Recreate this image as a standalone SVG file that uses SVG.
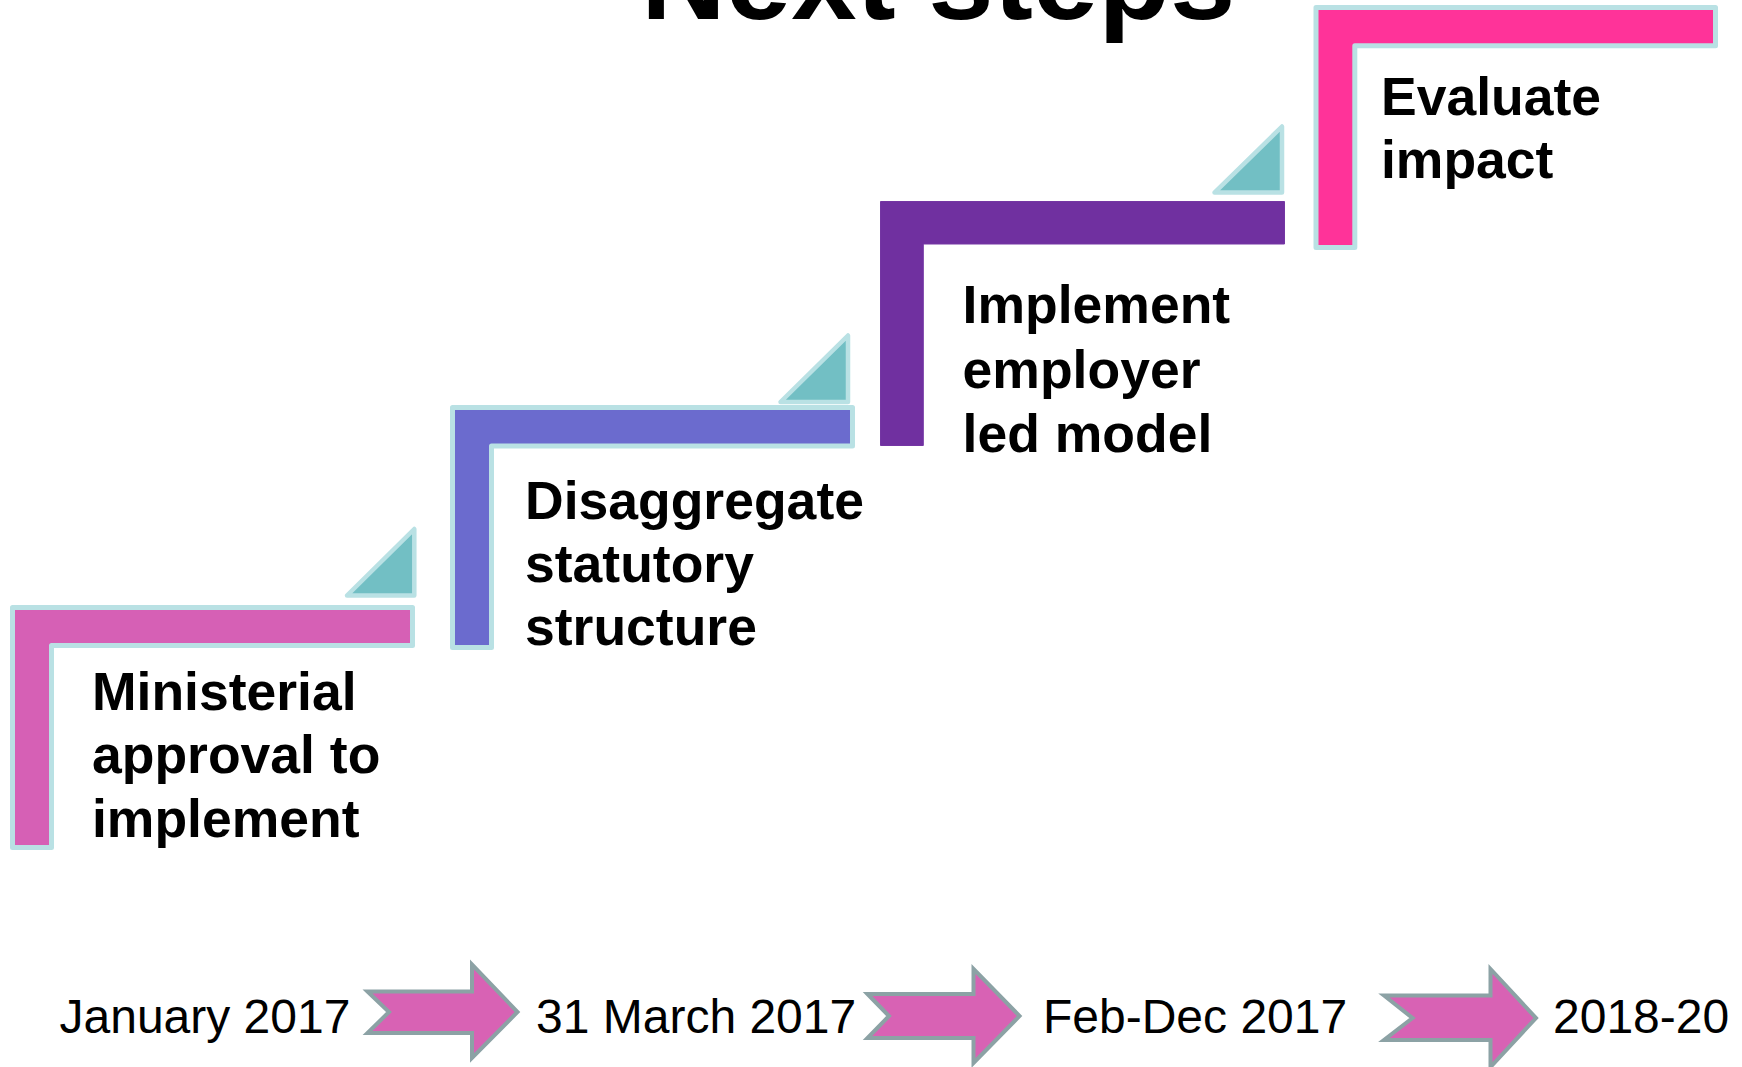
<svg xmlns="http://www.w3.org/2000/svg" width="1742" height="1067" viewBox="0 0 1742 1067">
  <style>
    .title { font-family: "Liberation Sans", Arial, sans-serif; font-weight: bold; font-size: 117.5px; fill: #000; }
    .step { font-family: "Liberation Sans", Arial, sans-serif; font-weight: bold; font-size: 53.5px; fill: #000; }
    .date { font-family: "Liberation Sans", Arial, sans-serif; font-size: 48px; fill: #000; }
    .bracket { stroke: #b9e1e4; stroke-width: 5; stroke-linejoin: round; }
    .flag { fill: #72bfc4; stroke: #b9e1e4; stroke-width: 4.5; stroke-linejoin: round; }
    .arrow { fill: #d862b4; stroke: #8ca2a5; stroke-width: 4; stroke-linejoin: miter; }
  </style>

  <rect x="0" y="0" width="1742" height="1067" fill="#ffffff"/>

  <!-- heading, partly above the top edge -->
  <text class="title" x="641" y="18.5">Next steps</text>

  <!-- step 1 -->
  <g id="step-ministerial">
    <path class="bracket" fill="#d660b5" d="M12.5,607.5 H412.5 V645.5 H51.5 V847.5 H12.5 Z"/>
    <path class="flag" d="M414.3,529 V595.5 H347 Z"/>
    <text class="step" x="92" y="710">
      <tspan x="92">Ministerial</tspan>
      <tspan x="92" dy="63.3">approval to</tspan>
      <tspan x="92" dy="63.3">implement</tspan>
    </text>
  </g>

  <!-- step 2 -->
  <g id="step-disaggregate">
    <path class="bracket" fill="#6b6bce" d="M452.5,407.5 H852.5 V446 H491.5 V647.5 H452.5 Z"/>
    <path class="flag" d="M848,335.5 V402 H780.5 Z"/>
    <text class="step" x="525" y="519">
      <tspan x="525">Disaggregate</tspan>
      <tspan x="525" dy="63">statutory</tspan>
      <tspan x="525" dy="63">structure</tspan>
    </text>
  </g>

  <!-- step 3 -->
  <g id="step-employer">
    <path fill="#7030a0" stroke="#7436a3" stroke-width="1" stroke-linejoin="round" d="M880.5,201.5 H1284.5 V244 H923.3 V445.5 H880.5 Z"/>
    <path class="flag" d="M1282,126.5 V192.6 H1214.5 Z"/>
    <text class="step" x="962.6" y="323.3">
      <tspan x="962.6">Implement</tspan>
      <tspan x="962.6" dy="64.2">employer</tspan>
      <tspan x="962.6" dy="64.2">led model</tspan>
    </text>
  </g>

  <!-- step 4 -->
  <g id="step-evaluate">
    <path class="bracket" fill="#ff3399" d="M1316,7.5 H1715.5 V45.8 H1354.8 V247.5 H1316 Z"/>
    <text class="step" x="1381" y="115">
      <tspan x="1381">Evaluate</tspan>
      <tspan x="1381" dy="63.3">impact</tspan>
    </text>
  </g>

  <!-- timeline labels -->
  <g id="date-jan-2017">
    <text class="date" x="59.5" y="1033.3">January 2017</text>
  </g>
  <g id="date-mar-2017">
    <text class="date" x="536" y="1033.3">31 March 2017</text>
  </g>
  <g id="date-feb-dec-2017">
    <text class="date" x="1043" y="1033.3">Feb-Dec 2017</text>
  </g>
  <g id="date-2018-20">
    <text class="date" x="1553" y="1033.3">2018-20</text>
  </g>

  <!-- notched arrows between the dates -->
  <g id="connectors">
    <path class="arrow" d="M367.5,991.5 L389,1012 L367.5,1033 L472,1033 L472,1058 L517.5,1012 L472,964.5 L472,991.5 Z"/>
    <path class="arrow" d="M867.5,994 L889,1016 L867.5,1038 L973.5,1038 L973.5,1063 L1019.5,1016 L973.5,969 L973.5,994 Z"/>
    <path class="arrow" d="M1384,995.5 L1412.5,1018 L1384,1040 L1490.5,1040 L1490.5,1067 L1536,1018 L1490.5,969 L1490.5,995.5 Z"/>
  </g>
</svg>
